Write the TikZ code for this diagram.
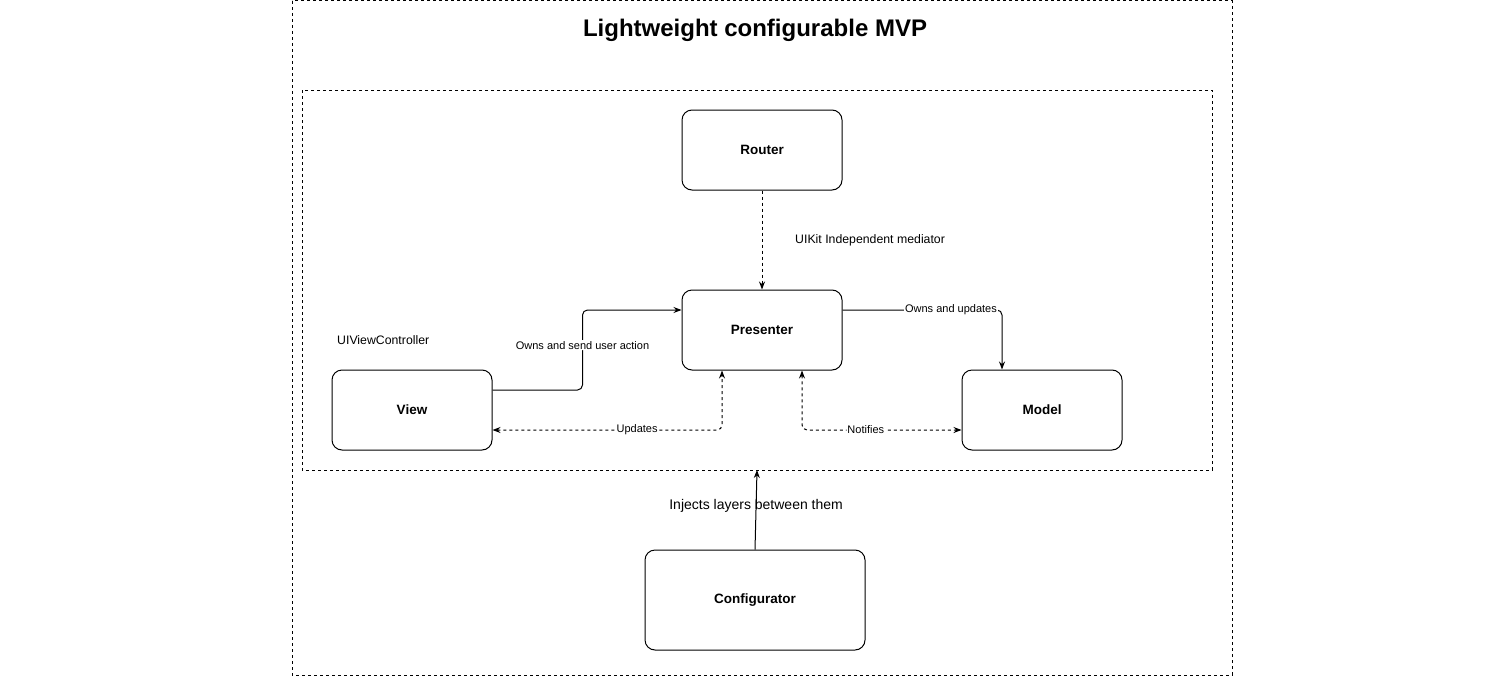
\documentclass[tikz,border=0pt]{standalone}
\usepackage{fontspec}
\setmainfont{Liberation Sans}
\usetikzlibrary{arrows.meta}
\tikzset{
  centered/.style = { align=center, anchor=center },
     block/.style = { draw, line width=1pt, rounded corners=10pt, centered,
                      minimum width=160pt, minimum height=80pt,
                      font=\bfseries\fontsize{13.5}{16}\selectfont },
     frame/.style = { draw, line width=1pt, dash pattern=on 3pt off 3pt },
      note/.style = { font=\fontsize{11}{13}\selectfont, inner sep=1pt },
   caption/.style = { font=\fontsize{12.3}{14}\selectfont, inner sep=0pt, anchor=west },
     arrow/.style = { line width=1pt, ->, >={Stealth[length=8pt,width=6pt]},
                      rounded corners=5pt },
    dotted/.style = { arrow, dash pattern=on 3pt off 3pt },
}

\begin{document}
\begin{tikzpicture}[x=1pt, y=-1pt]
  \useasboundingbox (0,0) rectangle (1511,677);
  % frames
  \draw [frame] (292,1) rectangle (1232,675);
  \draw [frame] (302,90) rectangle (1212,470);
  \node [font=\bfseries\fontsize{24}{28}\selectfont] (title) at (755,30)
    {Lightweight configurable MVP};
  % blocks
  \node [block] (router)    at (762,150) {Router};
  \node [block] (presenter) at (762,330) {Presenter};
  \node [block] (view)      at (412,410) {View};
  \node [block] (model)     at (1042,410) {Model};
  \node [block, minimum width=220pt, minimum height=100pt]
    (configurator) at (755,600) {Configurator};
  \coordinate (layers) at (757,470);
  % texts
  \node [caption] (mediator) at (795,240) {UIKit Independent mediator};
  \node [caption] (uivc)     at (337,340) {UIViewController};
  % connectors
  \draw [dotted] (router) -- (presenter);
  \draw [arrow] ([yshift=20pt]view.east) -- ++(90,0)
    |- node [note, fill=white, pos=0.28] {Owns and send user action}
       ([yshift=20pt]presenter.west);
  \draw [arrow] ([yshift=20pt]presenter.east)
    -| node [note, fill=white, pos=0.34] {Owns and updates}
       ([xshift=-40pt]model.north);
  \draw [dotted, <->] ([yshift=-20pt]view.east)
    -| node [note, fill=white, pos=0.315] {Updates}
       ([xshift=-40pt]presenter.south);
  \draw [dotted, <->] ([xshift=40pt]presenter.south)
    |- node [note, fill=white, pos=0.7] {Notifies}
       ([yshift=-20pt]model.west);
  \draw [arrow] (configurator.north) -- (layers)
    node [note, font=\fontsize{14}{16}\selectfont, pos=0.55] (injects)
    {Injects layers between them};
\end{tikzpicture}
\end{document}
